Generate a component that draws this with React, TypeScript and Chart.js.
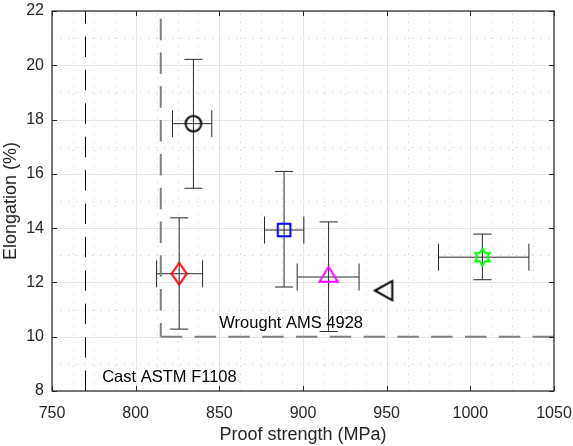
import React, { useEffect, useRef } from 'react';
import { Chart, registerables } from 'chart.js';

Chart.register(...registerables);

// ---- data ----
const proofStrength = [834.5, 826, 888.7, 915.3, 950, 1007.2];
const elongation = [17.85, 12.32, 13.93, 12.2, 11.7, 12.93];
const strengthLow = [822, 812.5, 877, 896.5, NaN, 981];
const strengthHigh = [845.5, 840, 900.5, 933.5, NaN, 1035];
const elongationLow = [15.47, 10.28, 11.83, 10.19, NaN, 12.1];
const elongationHigh = [20.22, 14.38, 16.09, 14.23, NaN, 13.78];
const markerShapes = ['circle', 'diamond', 'square', 'triangleUp', 'triangleLeft', 'hexagram'];
const markerColors = ['#000000', '#ff0000', '#0000ff', '#ff00ff', '#000000', '#00ff00'];

const castLimitX = [770, 770];
const castLimitY = [8, 22];
const wroughtVerticalX = [815, 815];
const wroughtVerticalY = [22, 10];
const wroughtHorizontalX = [815, 1050];
const wroughtHorizontalY = [10, 10];

const annotationLabels = ['Wrought AMS 4928', 'Cast ASTM F1108'];
const annotationX = [850, 780];
const annotationY = [10.5, 8.5];

const xTickValues = [750, 800, 850, 900, 950, 1000, 1050];
const yTickValues = [8, 10, 12, 14, 16, 18, 20, 22];
const xMinorPerMajor = 4;
const yMinorPerMajor = 2;

const xTitle = 'Proof strength (MPa)';
const yTitle = 'Elongation (%)';

const FONT = "'Liberation Sans', Arial, Helvetica, sans-serif";
const AXIS_COLOR = '#262626';

function makeMarker(shape: string, color: string): HTMLCanvasElement {
  const size = 40;
  const c = document.createElement('canvas');
  c.width = size;
  c.height = size;
  const ctx = c.getContext('2d')!;
  ctx.strokeStyle = color;
  ctx.lineWidth = 2;
  ctx.lineJoin = 'miter';
  const m = size / 2;
  ctx.beginPath();
  if (shape === 'circle') {
    ctx.arc(m, m, 7.8, 0, Math.PI * 2);
  } else if (shape === 'diamond') {
    ctx.moveTo(m, m - 10.8);
    ctx.lineTo(m + 7.6, m);
    ctx.lineTo(m, m + 10.8);
    ctx.lineTo(m - 7.6, m);
    ctx.closePath();
  } else if (shape === 'square') {
    ctx.rect(m - 6.3, m - 6.3, 12.6, 12.6);
  } else if (shape === 'triangleUp') {
    ctx.moveTo(m, m - 10.2);
    ctx.lineTo(m + 9.2, m + 4.8);
    ctx.lineTo(m - 9.2, m + 4.8);
    ctx.closePath();
  } else if (shape === 'triangleLeft') {
    ctx.moveTo(m - 11.8, m);
    ctx.lineTo(m + 5.6, m - 9.6);
    ctx.lineTo(m + 5.6, m + 9.6);
    ctx.closePath();
  } else if (shape === 'hexagram') {
    const R = 8.4;
    const r = R / Math.sqrt(3);
    for (let k = 0; k < 12; k++) {
      const ang = -Math.PI / 2 + (k * Math.PI) / 6;
      const rad = k % 2 === 0 ? R : r;
      const px = m + rad * Math.cos(ang);
      const py = m + rad * Math.sin(ang);
      if (k === 0) ctx.moveTo(px, py);
      else ctx.lineTo(px, py);
    }
    ctx.closePath();
  }
  ctx.stroke();
  return c;
}

const matlabAxesPlugin = {
  id: 'matlabAxes',
  beforeDatasetsDraw(chart: any) {
    const { ctx, chartArea: a, scales } = chart;
    const xs = scales.x;
    const ys = scales.y;
    ctx.save();
    // minor dotted grid
    ctx.strokeStyle = '#d4d4d4';
    ctx.lineWidth = 1;
    ctx.setLineDash([1.5, 6.5]);
    for (let i = 0; i < xTickValues.length - 1; i++) {
      const step = (xTickValues[i + 1] - xTickValues[i]) / xMinorPerMajor;
      for (let k = 1; k < xMinorPerMajor; k++) {
        const px = Math.round(xs.getPixelForValue(xTickValues[i] + k * step)) + 0.5;
        ctx.beginPath();
        ctx.moveTo(px, a.bottom);
        ctx.lineTo(px, a.top);
        ctx.stroke();
      }
    }
    for (let i = 0; i < yTickValues.length - 1; i++) {
      const step = (yTickValues[i + 1] - yTickValues[i]) / yMinorPerMajor;
      for (let k = 1; k < yMinorPerMajor; k++) {
        const py = Math.round(ys.getPixelForValue(yTickValues[i] + k * step)) + 0.5;
        ctx.beginPath();
        ctx.moveTo(a.left, py);
        ctx.lineTo(a.right, py);
        ctx.stroke();
      }
    }
    // major solid grid
    ctx.setLineDash([]);
    ctx.strokeStyle = '#e6e6e6';
    for (const v of xTickValues) {
      const px = Math.round(xs.getPixelForValue(v)) + 0.5;
      ctx.beginPath();
      ctx.moveTo(px, a.bottom);
      ctx.lineTo(px, a.top);
      ctx.stroke();
    }
    for (const v of yTickValues) {
      const py = Math.round(ys.getPixelForValue(v)) + 0.5;
      ctx.beginPath();
      ctx.moveTo(a.left, py);
      ctx.lineTo(a.right, py);
      ctx.stroke();
    }
    // error bars
    ctx.strokeStyle = '#2a2a2a';
    ctx.lineWidth = 1;
    const capX = 13.5;
    const capY = 9;
    for (let i = 0; i < proofStrength.length; i++) {
      const cx = xs.getPixelForValue(proofStrength[i]);
      const cy = ys.getPixelForValue(elongation[i]);
      if (!isNaN(strengthLow[i])) {
        const x0 = xs.getPixelForValue(strengthLow[i]);
        const x1 = xs.getPixelForValue(strengthHigh[i]);
        ctx.beginPath();
        ctx.moveTo(x0, cy);
        ctx.lineTo(x1, cy);
        ctx.moveTo(x0, cy - capX);
        ctx.lineTo(x0, cy + capX);
        ctx.moveTo(x1, cy - capX);
        ctx.lineTo(x1, cy + capX);
        ctx.stroke();
      }
      if (!isNaN(elongationLow[i])) {
        const y0 = ys.getPixelForValue(elongationLow[i]);
        const y1 = ys.getPixelForValue(elongationHigh[i]);
        ctx.beginPath();
        ctx.moveTo(cx, y0);
        ctx.lineTo(cx, y1);
        ctx.moveTo(cx - capY, y0);
        ctx.lineTo(cx + capY, y0);
        ctx.moveTo(cx - capY, y1);
        ctx.lineTo(cx + capY, y1);
        ctx.stroke();
      }
    }
    ctx.restore();
  },
  afterDatasetsDraw(chart: any) {
    const { ctx, chartArea: a, scales } = chart;
    const xs = scales.x;
    const ys = scales.y;
    ctx.save();
    // annotations
    ctx.fillStyle = '#000000';
    ctx.font = `16.5px ${FONT}`;
    ctx.textAlign = 'left';
    ctx.textBaseline = 'middle';
    for (let i = 0; i < annotationLabels.length; i++) {
      ctx.fillText(
        annotationLabels[i],
        xs.getPixelForValue(annotationX[i]),
        ys.getPixelForValue(annotationY[i])
      );
    }
    // box
    ctx.strokeStyle = AXIS_COLOR;
    ctx.lineWidth = 1.2;
    ctx.strokeRect(a.left, a.top, a.right - a.left, a.bottom - a.top);
    // inward ticks
    ctx.lineWidth = 1;
    const tl = 5;
    ctx.beginPath();
    for (const v of xTickValues) {
      const px = Math.round(xs.getPixelForValue(v)) + 0.5;
      ctx.moveTo(px, a.bottom);
      ctx.lineTo(px, a.bottom - tl);
      ctx.moveTo(px, a.top);
      ctx.lineTo(px, a.top + tl);
    }
    for (const v of yTickValues) {
      const py = Math.round(ys.getPixelForValue(v)) + 0.5;
      ctx.moveTo(a.left, py);
      ctx.lineTo(a.left + tl, py);
      ctx.moveTo(a.right, py);
      ctx.lineTo(a.right - tl, py);
    }
    ctx.stroke();
    ctx.restore();
  },
};

function limitLine(label: string, xsArr: number[], ysArr: number[], color: string, width: number, dash: number[], offset: number) {
  return {
    label,
    data: xsArr.map((x, i) => ({ x, y: ysArr[i] })),
    showLine: true,
    borderColor: color,
    borderWidth: width,
    borderDash: dash,
    borderDashOffset: offset,
    pointRadius: 0,
    pointHoverRadius: 0,
    tension: 0,
    fill: false,
  };
}

export default function App() {
  const canvasRef = useRef<HTMLCanvasElement | null>(null);

  useEffect(() => {
    const canvas = canvasRef.current;
    if (!canvas) return;
    const markers = markerShapes.map((s, i) => makeMarker(s, markerColors[i]));
    const chart = new Chart(canvas, {
      type: 'scatter',
      data: {
        datasets: [
          {
            label: 'Measurements',
            data: proofStrength.map((x, i) => ({ x, y: elongation[i] })),
            pointStyle: markers as any,
            pointRadius: 10,
            pointHoverRadius: 10,
            showLine: false,
          },
          limitLine('Wrought AMS 4928', wroughtVerticalX, wroughtVerticalY, '#808080', 2, [21.5, 12.3], 26.1) as any,
          limitLine('Wrought AMS 4928 (elongation)', wroughtHorizontalX, wroughtHorizontalY, '#808080', 2, [21.5, 12.3], 0) as any,
          limitLine('Cast ASTM F1108', castLimitX, castLimitY, '#000000', 1, [20.5, 12.9], 0) as any,
        ],
      },
      options: {
        animation: false,
        responsive: false,
        events: [],
        layout: { padding: { top: 8, right: 19, left: 0, bottom: 0 } },
        plugins: {
          legend: { display: false },
          tooltip: { enabled: false },
        },
        scales: {
          x: {
            type: 'linear',
            min: 750,
            max: 1050,
            afterBuildTicks: (s: any) => {
              s.ticks = xTickValues.map((v) => ({ value: v }));
            },
            afterFit: (s: any) => {
              s.height = 55;
              s.paddingLeft = 0;
              s.paddingRight = 0;
            },
            grid: { display: false, drawTicks: false },
            border: { display: false },
            ticks: {
              padding: 13,
              color: AXIS_COLOR,
              font: { family: FONT, size: 16 },
              maxRotation: 0,
              callback: (v: any) => String(v),
            },
            title: {
              display: true,
              text: xTitle,
              color: AXIS_COLOR,
              font: { family: FONT, size: 18 },
              padding: { top: 0, bottom: 0 },
            },
          },
          y: {
            type: 'linear',
            min: 8,
            max: 22,
            afterBuildTicks: (s: any) => {
              s.ticks = yTickValues.map((v) => ({ value: v }));
            },
            afterFit: (s: any) => {
              s.width = 52;
              s.paddingTop = 0;
              s.paddingBottom = 0;
            },
            grid: { display: false, drawTicks: false },
            border: { display: false },
            ticks: {
              padding: 8,
              color: AXIS_COLOR,
              font: { family: FONT, size: 16 },
              callback: (v: any) => String(v),
            },
            title: {
              display: true,
              text: yTitle,
              color: AXIS_COLOR,
              font: { family: FONT, size: 18 },
              padding: { top: 0, bottom: 0 },
            },
          },
        },
      },
      plugins: [matlabAxesPlugin],
    });
    return () => chart.destroy();
  }, []);

  return (
    <div style={{ position: 'absolute', left: 0, top: 0, width: 573, height: 446, background: '#ffffff' }}>
      <canvas ref={canvasRef} width={573} height={446} style={{ display: 'block' }} />
    </div>
  );
}
